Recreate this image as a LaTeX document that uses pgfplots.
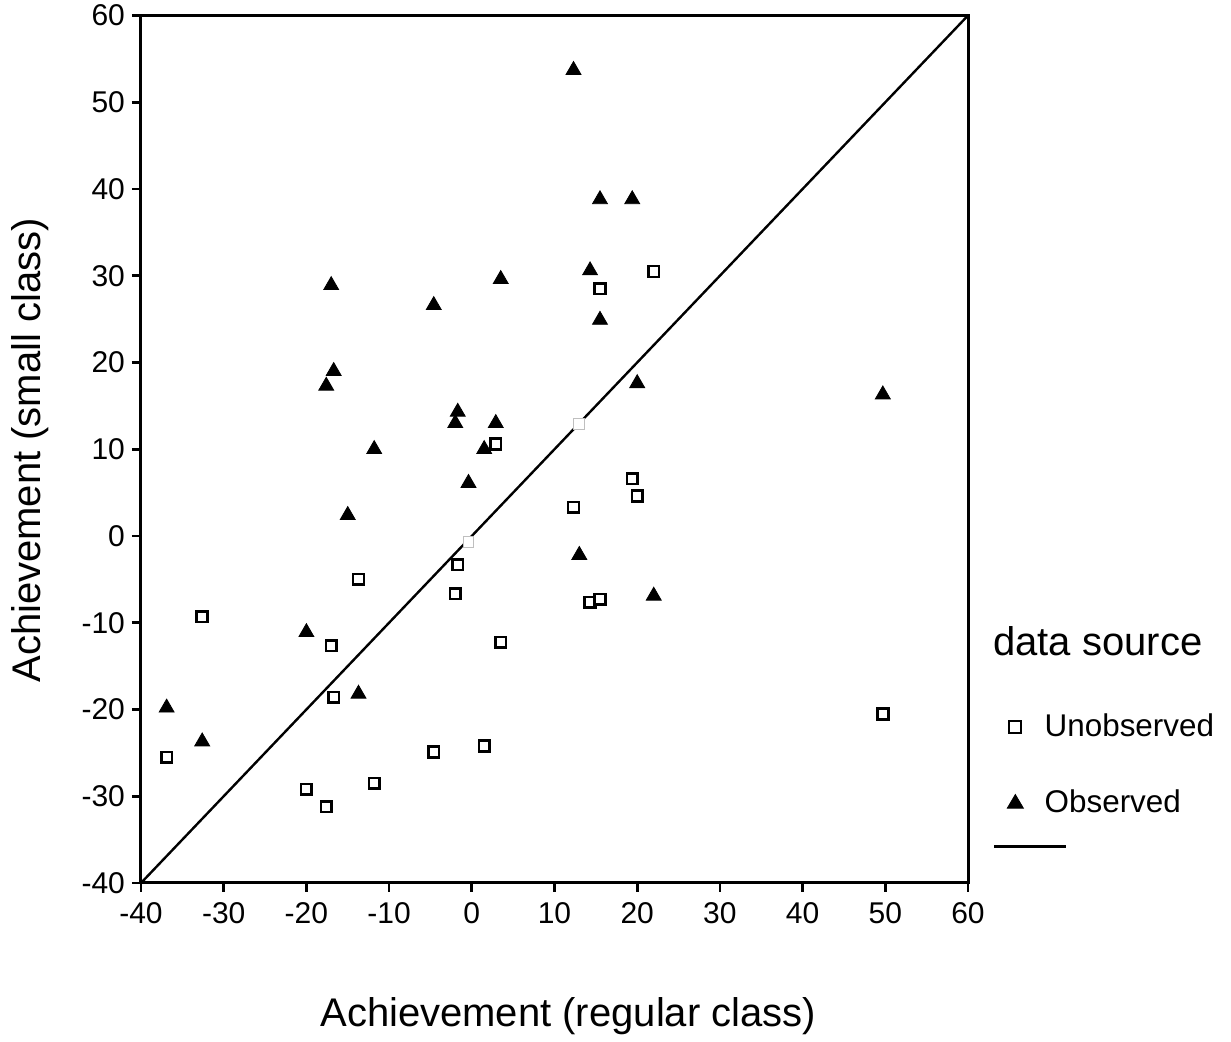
\documentclass[border=0pt]{standalone}
\usepackage{pgfplots}
\pgfplotsset{compat=1.18}
\usepackage{fontspec}
\setmainfont{Liberation Sans}

\pgfplotstableread{
x y
-36.9 -19.8
-32.6 -23.7
-20.0 -11.1
-17.6 17.3
-17.0 28.9
-16.7 19.0
-15.0 2.4
-13.7 -18.2
-11.8 10.0
-4.6 26.6
-2.0 13.0
-1.7 14.3
-0.4 6.1
1.5 10.0
2.9 13.0
3.5 29.6
12.3 53.7
13.0 -2.2
14.3 30.6
15.5 38.8
15.5 24.9
19.4 38.8
20.0 17.6
22.0 -6.9
49.7 16.3
}\observed

\pgfplotstableread{
x y
-36.9 -25.5
-32.6 -9.3
-20.0 -29.2
-17.6 -31.2
-17.0 -12.65
-16.7 -18.6
-13.7 -5.0
-11.8 -28.5
-4.6 -24.9
-2.0 -6.65
-1.7 -3.3
1.5 -24.2
2.9 10.6
3.5 -12.25
12.3 3.3
14.3 -7.65
15.5 28.5
15.5 -7.3
19.4 6.6
20.0 4.6
22.0 30.5
49.7 -20.5
}\unobserved

% two faint leftover squares in the original
\pgfplotstableread{
x y
13.0 12.9
-0.4 -0.7
}\faint

\begin{document}
\begin{tikzpicture}
\useasboundingbox (-70.5pt,-79.5pt) rectangle (545pt,441.5pt);
\begin{axis}[
  width=413.5pt, height=433.75pt, scale only axis,
  xmin=-40, xmax=60, ymin=-40, ymax=60,
  xtick={-40,-30,...,60}, ytick={-40,-30,...,60},
  xtick pos=bottom, ytick pos=left,
  tick align=outside, major tick length=4.5pt,
  axis line style={line width=1.5pt},
  every tick/.style={black, line width=1.4pt},
  tick label style={font=\fontsize{15}{17}\selectfont},
  xticklabel style={yshift=-1.5pt},
  /pgf/number format/assume math mode=true,
  clip=false,
  xlabel={Achievement (regular class)},
  ylabel={Achievement (small class)},
  label style={font=\fontsize{20}{23}\selectfont, inner sep=0pt},
  xlabel style={at={(axis description cs:0.2164,-0.1657)}, anchor=base west},
  ylabel style={at={(axis description cs:-0.1221,0.2305)}, anchor=base west, rotate=0},
  legend style={at={(axis description cs:1.0466,0.20)}, anchor=north west,
    draw=none, fill=none, inner sep=0pt, row sep=21pt,
    font=\fontsize{15.7}{18}\selectfont,
    /tikz/every odd column/.append style={column sep=8.5pt}},
  legend cell align=left,
]
\addlegendimage{legend image code/.code={
  \draw[black, line width=1pt, fill=white] (-3pt,-3pt) rectangle (3pt,3pt);}}
\addlegendimage{legend image code/.code={
  \fill[black] (-4pt,-2.8pt) -- (4pt,-2.8pt) -- (0pt,4pt) -- cycle;
  \draw[overlay, black, line width=1.1pt] (-10.5pt,-22pt) -- (25.5pt,-22pt);}}
\legend{Unobserved, Observed}

\addplot[forget plot, black, line width=1.2pt] coordinates {(-40,-40) (60,60)};
\addplot[forget plot, only marks, mark=triangle*, mark size=4.3pt,
  mark options={black, fill=black}] table {\observed};
\addplot[forget plot, only marks, mark=square*, mark size=2.7pt,
  mark options={draw=black, fill=white, line width=1.3pt}] table {\unobserved};
\addplot[forget plot, only marks, mark=square*, mark size=2.7pt,
  mark options={draw=black!25, fill=white, line width=0.5pt}] table {\faint};

\node[anchor=base west, inner sep=0pt, font=\fontsize{20}{23}\selectfont]
  at (axis description cs:1.0302,0.2628) {data source};
\end{axis}
\end{tikzpicture}
\end{document}
